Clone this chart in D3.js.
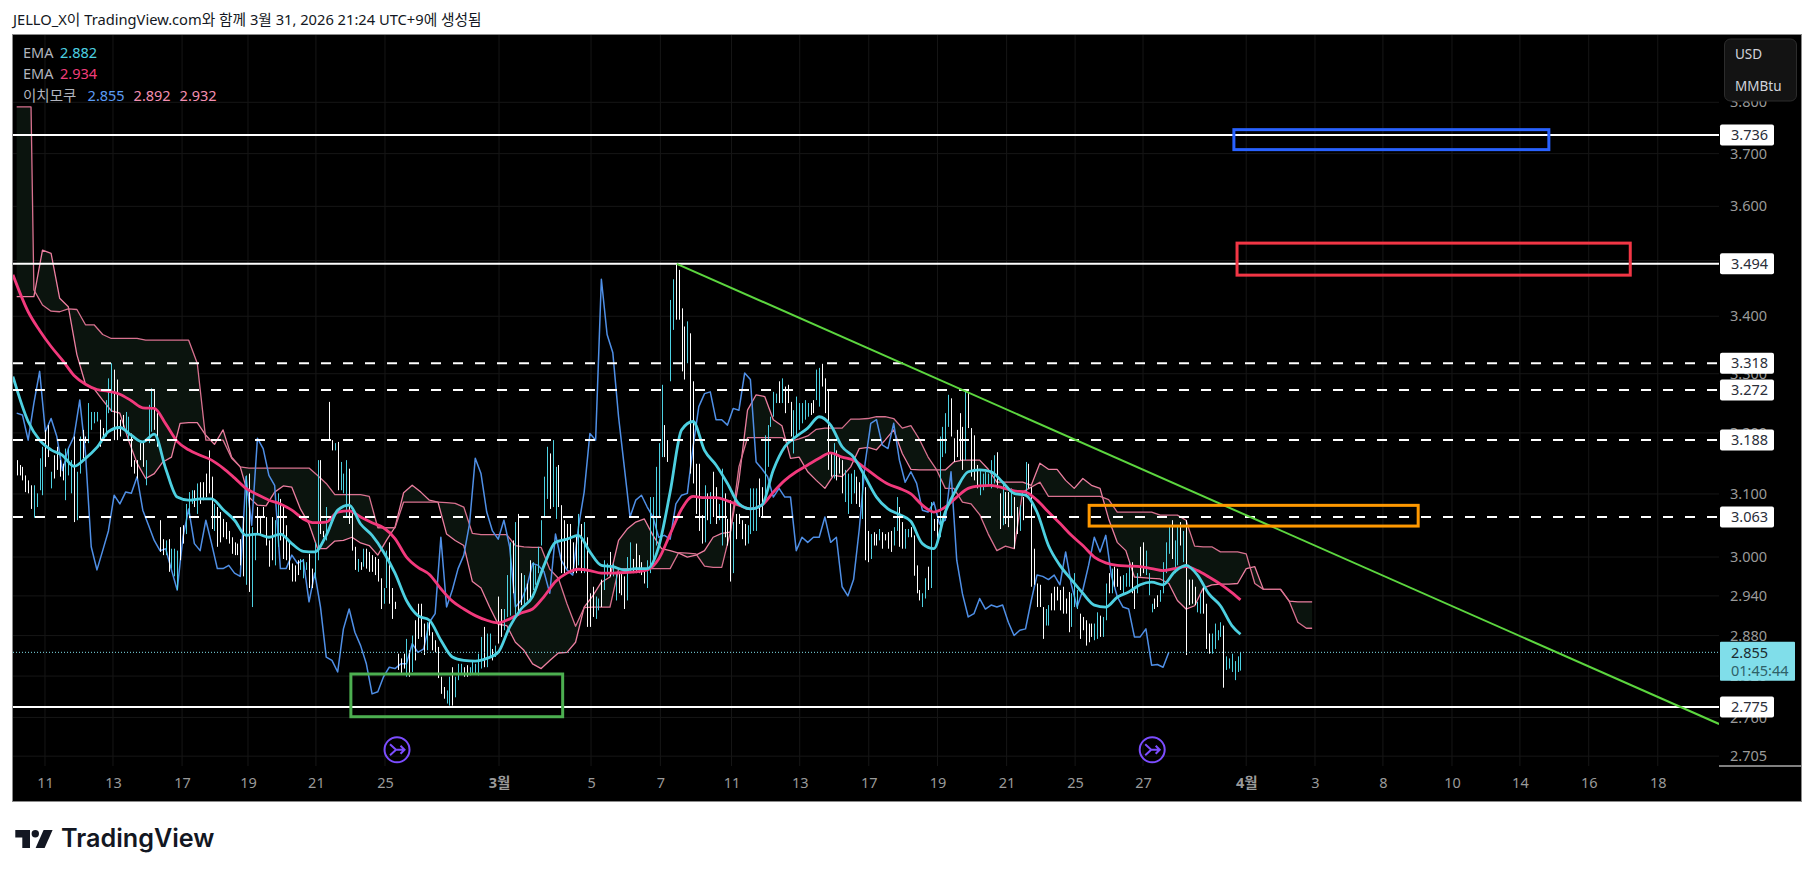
<!DOCTYPE html>
<html>
<head>
<meta charset="utf-8">
<title>JELLO_X chart</title>
<script src="https://d3js.org/d3.v7.min.js"></script>
<style>
  html, body { margin: 0; padding: 0; background: #fff; }
  svg { display: block; }
  text { font-family: "Noto Sans", "Noto Sans CJK KR", sans-serif; }
</style>
</head>
<body>
<svg id="chart" width="1814" height="877"></svg>
<script>
'use strict';

const headerText = 'JELLO_X이 TradingView.com와 함께 3월 31, 2026 21:24 UTC+9에 생성됨';

// 2h bars, left to right
const barHigh = [
  3.155,3.147,3.144,3.130,3.122,3.114,3.114,3.101,3.158,3.177,
  3.205,3.213,3.136,3.163,3.177,3.155,3.149,3.174,3.174,3.155,
  3.194,3.136,3.194,3.205,3.194,3.250,3.235,3.235,3.235,3.222,
  3.208,3.255,3.292,3.318,3.307,3.290,3.222,3.230,3.235,3.227,
  3.199,3.155,3.155,3.183,3.185,3.155,3.247,3.275,3.272,3.233,
  3.058,3.028,3.026,3.028,3.013,3.013,3.010,3.047,3.050,3.084,
  3.103,3.106,3.106,3.117,3.119,3.119,3.133,3.171,3.128,3.084,
  3.079,3.071,3.060,3.055,3.041,3.031,3.023,3.021,3.028,3.063,
  3.130,3.133,3.047,3.036,3.079,3.063,3.079,3.063,3.026,3.063,
  3.058,3.101,3.092,3.082,3.050,3.023,2.990,2.987,2.995,2.997,
  2.997,2.992,3.005,2.982,3.023,3.155,3.155,3.041,3.079,3.252,
  3.188,3.183,3.185,3.152,3.133,3.155,3.141,3.079,3.016,2.997,
  2.992,3.013,3.013,3.008,3.003,3.000,2.997,2.967,2.952,3.010,
  3.023,2.952,2.931,2.853,2.846,2.853,2.875,2.858,2.880,2.903,
  2.928,2.928,2.898,2.900,
  2.900,2.885,2.873,2.863,2.819,2.804,2.799,2.819,2.833,2.819,
  2.838,2.838,2.833,2.836,2.833,2.841,2.838,2.853,2.878,2.893,
  2.883,2.883,2.860,2.865,2.939,2.920,2.920,2.972,3.023,3.026,
  3.055,3.068,2.975,2.972,2.959,2.995,2.992,2.987,3.016,3.058,
  3.128,3.177,3.166,3.188,3.144,3.147,3.082,3.058,3.052,3.052,
  3.023,3.034,3.068,3.052,3.055,3.031,2.944,2.954,2.939,2.936,
  2.965,2.995,2.990,3.008,2.990,2.975,2.975,2.975,2.970,3.000,
  3.023,2.997,3.021,3.003,2.992,2.982,2.995,3.095,3.095,3.144,
  3.183,3.281,3.213,3.188,3.429,3.466,3.494,3.483,3.414,3.382,
  3.391,3.370,3.287,3.149,3.149,3.066,3.114,3.101,3.103,3.136,
  3.111,3.084,3.141,3.101,3.060,3.090,3.055,3.068,3.068,3.058,
  3.052,3.050,3.109,3.109,3.109,3.125,3.111,3.196,3.213,3.227,
  3.269,3.266,3.287,3.292,3.278,3.281,3.252,3.238,3.261,3.250,
  3.250,3.255,3.250,3.250,3.255,3.307,3.310,3.317,3.292,3.272,
  3.168,3.183,3.171,3.160,3.155,3.139,3.133,
  3.133,3.139,3.128,3.119,3.133,3.111,3.041,3.036,3.039,3.036,
  3.044,3.039,3.036,3.039,3.041,3.047,3.095,3.079,3.055,3.044,
  3.044,3.047,3.034,2.987,2.949,2.944,2.967,2.985,3.087,3.060,
  3.060,3.194,3.210,3.233,3.264,3.258,3.191,3.205,3.233,3.210,
  3.269,3.269,3.208,3.196,3.147,3.139,3.133,3.136,3.133,3.155,
  3.163,3.168,3.101,3.117,3.103,3.103,3.109,3.095,3.079,3.082,
  3.095,3.152,3.149,3.111,3.013,2.959,2.957,2.923,2.920,2.926,
  2.944,2.954,2.954,2.949,2.954,2.936,2.946,2.944,2.975,2.949,
  2.913,2.908,2.903,2.898,2.898,2.898,2.915,2.910,2.908,2.959,
  2.975,2.982,2.985,2.982,2.970,2.972,2.975,2.990,2.992,2.954,
  2.975,3.016,3.023,3.010,2.975,2.928,2.936,2.941,2.949,2.992,
  3.023,3.050,3.058,3.026,3.050,3.055,3.041,3.058,2.965,2.965,
  2.954,2.931,2.944,2.954,2.928,2.883,2.883,2.898,2.888,2.900,
  2.895,2.849,2.846,2.853,2.842,2.849,2.855
];
const barLow = [
  3.130,3.130,3.122,3.103,3.101,3.076,3.062,3.079,3.106,3.098,
  3.144,3.160,3.109,3.125,3.139,3.128,3.122,3.090,3.130,3.101,
  3.055,3.058,3.133,3.158,3.183,3.183,3.205,3.216,3.219,3.177,
  3.188,3.194,3.233,3.235,3.188,3.188,3.194,3.210,3.199,3.188,
  3.144,3.133,3.125,3.155,3.144,3.114,3.183,3.202,3.205,3.177,
  3.008,3.003,3.003,2.977,2.982,2.970,2.949,2.995,3.021,3.036,
  3.063,3.084,3.079,3.068,3.084,3.090,3.095,3.101,3.044,3.041,
  3.016,3.023,3.031,3.028,3.021,3.005,3.003,3.003,2.987,2.970,
  2.957,2.946,2.923,2.995,3.036,3.036,3.063,3.018,2.985,2.995,
  2.987,3.016,3.026,2.997,2.995,2.980,2.962,2.962,2.972,2.980,
  2.967,2.980,2.952,2.952,2.965,2.995,3.036,3.031,3.026,3.188,
  3.171,3.171,3.106,3.106,3.101,3.063,3.052,3.010,2.980,2.977,
  2.980,2.985,2.982,2.977,2.977,2.972,2.962,2.920,2.928,2.952,
  2.928,2.905,2.920,2.829,2.824,2.831,2.819,2.819,2.826,2.843,
  2.875,2.878,2.851,2.858,
  2.880,2.858,2.855,2.817,2.794,2.787,2.780,2.777,2.777,2.789,
  2.814,2.824,2.819,2.819,2.821,2.824,2.824,2.821,2.831,2.833,
  2.833,2.848,2.843,2.848,2.868,2.878,2.888,2.908,2.910,2.944,
  2.908,2.910,2.926,2.923,2.933,2.933,2.949,2.957,2.975,3.018,
  3.063,3.092,3.076,3.079,3.060,3.079,2.975,2.975,2.982,2.980,
  2.975,2.975,2.987,2.975,2.975,2.893,2.893,2.908,2.905,2.918,
  2.923,2.949,2.970,2.970,2.970,2.933,2.944,2.941,2.920,2.933,
  2.975,2.975,2.975,2.975,2.972,2.959,2.952,2.975,2.985,3.018,
  3.063,3.160,3.160,3.152,3.287,3.376,3.394,3.394,3.304,3.290,
  3.318,3.133,3.117,3.068,3.041,3.021,3.023,3.058,3.052,3.063,
  3.052,3.058,3.018,3.031,3.018,2.962,2.975,3.028,3.052,3.028,
  3.018,3.021,3.036,3.041,3.041,3.063,3.063,3.090,3.144,3.210,
  3.227,3.250,3.250,3.250,3.233,3.250,3.194,3.166,3.194,3.205,
  3.216,3.222,3.227,3.230,3.233,3.255,3.244,3.278,3.233,3.139,
  3.128,3.125,3.122,3.133,3.101,3.087,3.068,
  3.084,3.101,3.084,3.079,3.060,2.995,2.992,2.997,3.018,3.018,
  3.026,3.013,3.026,3.013,3.008,3.018,3.041,3.016,3.013,3.013,
  3.031,3.031,2.971,2.944,2.933,2.923,2.936,2.949,2.952,3.041,
  3.026,3.031,3.160,3.166,3.210,3.194,3.152,3.160,3.155,3.139,
  3.155,3.208,3.128,3.122,3.109,3.098,3.106,3.111,3.114,3.109,
  3.117,3.109,3.044,3.050,3.052,3.047,3.063,3.013,3.036,3.041,
  3.058,3.095,3.109,2.954,2.957,2.923,2.923,2.875,2.895,2.895,
  2.918,2.918,2.933,2.918,2.913,2.913,2.885,2.893,2.923,2.920,
  2.875,2.888,2.865,2.870,2.878,2.873,2.875,2.878,2.878,2.903,
  2.944,2.944,2.954,2.954,2.949,2.944,2.954,2.954,2.944,2.920,
  2.944,2.970,2.975,2.972,2.941,2.915,2.920,2.923,2.931,2.944,
  2.975,3.005,2.997,2.975,2.987,3.018,2.992,2.851,2.926,2.928,
  2.926,2.915,2.913,2.913,2.860,2.853,2.853,2.860,2.873,2.878,
  2.803,2.829,2.831,2.826,2.814,2.826,2.828
];
// w = white bar, c = cyan bar
const barKinds = (
  'wwwwwwcccc' + 'wwcwwwwccc' + 'wccwwccccw' + 'wcccwwwwcc' + 'wwwwwcccww' +
  'wwcwcccwwc' + 'ccwcwwwwwc' + 'wwwwwwwwww' + 'cwccwwwwww' + 'ccwwwwwwwc' +
  'ccwwccwwcw' + 'wcwcccwwwc' + 'wcwwwwwwcc' + 'wwwwwwcwcw' + 'wwwc' +
  'wwwwwwccwc' + 'ccwwcccccw' + 'ccwcwwcccw' + 'cwwcwwcccc' + 'ccwccwwwww' +
  'wwcwcwwwcc' + 'wccwccwwwc' + 'cwwwwwcccc' + 'ccwwccwwww' + 'cwwwwwcwcw' +
  'wccwwwcwww' + 'wccccwwccc' + 'ccwcwwwccc' + 'cccwwccwww' + 'wcwwwcc' +
  'ccwwcwwcww' + 'cwwwwccwwc' + 'cwwwwccwcw' + 'wccccwwwww' + 'cwwwwccccc' +
  'cwwcwwcwwc' + 'wcwwwwwwcc' + 'wwwwwwwccc' + 'wwwwwccwcc' + 'wcwwwcccww' +
  'cwwcccwwcc' + 'ccwccwcwww' + 'wccwwwcccc' + 'wcccccc'
).split('');

// lagging span, one value per two bars
const lagging = [
  3.233,3.230,3.188,3.250,3.304,3.202,3.224,3.194,3.138,3.174,
  3.194,3.255,3.166,3.016,2.980,3.010,3.041,3.098,3.084,3.103,
  3.101,3.128,3.074,3.050,3.026,3.010,3.013,2.980,2.949,3.031,
  3.076,3.021,3.010,3.058,3.021,2.982,2.982,2.987,2.975,2.970,
  3.128,3.050,3.191,3.174,3.130,3.114,2.982,2.982,3.003,2.990,
  2.995,2.931,2.975,2.923,2.848,2.843,2.826,2.890,2.920,2.885,
  2.865,2.838,2.794,2.797,2.819,2.833,2.831,2.838,2.838,2.868,
  2.855,2.860,2.900,2.913,3.031,2.923,2.949,2.982,3.003,3.052,
  3.158,3.133,3.071,3.041,3.028,3.058,3.016,2.923,2.933,2.954,
  2.990,2.987,2.977,2.944,3.036,2.995,2.980,2.972,3.047,3.103,
  3.199,3.188,3.466,3.368,3.336,3.227,3.144,3.063,3.090,3.098,
  3.079,3.063,3.031,3.034,3.028,3.084,3.098,3.101,3.177,3.244,
  3.266,3.269,3.222,3.222,3.213,3.241,3.238,3.301,3.290,3.152,
  3.141,3.128,3.095,3.109,3.095,3.095,3.010,3.031,3.023,3.031,
  3.031,3.063,3.023,3.031,2.954,2.940,2.965,3.044,3.149,3.216,
  3.222,3.180,3.174,3.216,3.155,3.119,3.136,3.117,3.074,3.071,
  3.087,3.052,3.058,3.136,2.995,2.943,2.908,2.913,2.936,2.920,
  2.926,2.923,2.926,2.900,2.880,2.888,2.890,2.933,2.972,2.970,
  2.965,2.972,2.957,3.008,2.957,2.923,2.949,2.987,3.031,3.008,
  3.034,2.970,2.939,2.923,2.920,2.878,2.878,2.890,2.836,2.837,
  2.833,2.855
];

// moving averages, one value per four bars (first one sits at the plot edge)
const emaFast = [
  3.295,3.219,3.188,3.172,3.163,3.145,3.158,3.176,3.202,3.209,
  3.196,3.185,3.198,3.141,3.095,3.090,3.092,3.092,3.075,3.058,
  3.034,3.036,3.031,3.036,3.021,3.009,3.008,3.034,3.074,3.082,
  3.052,3.034,3.008,2.975,2.933,2.910,2.903,2.873,2.848,2.843,
  2.842,2.846,2.855,2.893,2.920,2.939,2.987,3.023,3.028,3.034,
  3.008,2.987,2.985,2.980,2.982,2.982,3.016,3.103,3.205,3.219,
  3.171,3.147,3.117,3.084,3.076,3.082,3.139,3.177,3.194,3.208,
  3.227,3.213,3.177,3.160,3.128,3.095,3.076,3.067,3.056,3.021,
  3.013,3.071,3.109,3.136,3.139,3.136,3.119,3.101,3.098,3.071,
  3.018,2.987,2.965,2.944,2.926,2.923,2.938,2.946,2.957,2.961,
  2.957,2.977,2.987,2.972,2.943,2.925,2.895,2.882
];
const emaSlow = [
  3.474,3.408,3.375,3.347,3.323,3.297,3.282,3.273,3.270,3.265,
  3.254,3.242,3.241,3.215,3.186,3.172,3.163,3.155,3.142,3.126,
  3.109,3.099,3.090,3.084,3.074,3.060,3.054,3.055,3.071,3.073,
  3.063,3.054,3.046,3.029,3.000,2.984,2.973,2.951,2.932,2.920,
  2.910,2.903,2.899,2.905,2.914,2.920,2.939,2.962,2.975,2.981,
  2.979,2.975,2.975,2.976,2.977,2.980,2.997,3.036,3.076,3.096,
  3.094,3.094,3.089,3.082,3.076,3.082,3.103,3.122,3.136,3.147,
  3.158,3.167,3.160,3.155,3.142,3.128,3.116,3.109,3.100,3.082,
  3.071,3.079,3.095,3.109,3.113,3.114,3.110,3.105,3.103,3.090,
  3.071,3.053,3.034,3.018,3.000,2.991,2.987,2.986,2.985,2.982,
  2.979,2.982,2.985,2.979,2.969,2.958,2.945,2.934
];

// cloud, bar numbers then the two span values
const cloudBars = d3.merge([[0, 3, 5], d3.range(6, 451, 3), [452]]);
const spanA = [
  3.435,3.435,3.435,
  3.435,3.519,3.513,3.432,3.417,3.333,3.282,3.274,3.255,3.237,3.233,3.188,
  3.150,3.125,3.133,3.152,3.160,3.216,3.217,3.217,3.196,3.181,3.205,3.160,
  3.144,3.095,3.082,3.081,3.103,3.113,3.111,3.076,3.052,3.013,3.013,3.025,
  3.026,3.031,3.022,3.018,3.003,3.026,3.047,3.102,3.114,3.103,3.090,3.087,
  3.036,3.026,3.018,2.962,2.952,2.923,2.897,2.895,2.870,2.858,2.838,2.831,
  2.843,2.854,2.855,2.870,2.923,2.940,2.961,2.969,3.026,3.044,3.055,3.060,
  3.034,3.013,3.010,3.006,3.000,3.003,3.010,3.031,3.037,3.039,3.122,3.238,
  3.264,3.261,3.222,3.212,3.158,3.160,3.136,3.122,3.109,3.130,3.128,3.144,
  3.174,3.176,3.172,3.188,3.205,3.166,3.140,3.139,3.139,3.139,3.139,3.152,
  3.155,3.155,3.155,3.140,3.119,3.119,3.119,3.119,3.114,3.150,3.140,3.140,
  3.122,3.109,3.125,3.114,3.109,3.060,3.023,3.010,2.969,2.968,2.967,2.966,
  2.959,2.933,2.920,2.925,2.952,2.957,2.958,2.958,2.959,2.982,2.985,2.950,
  2.950,2.950,2.932,2.931,2.931,
  2.931
];
const spanB = [
  3.791,3.791,3.791,
  3.447,3.420,3.409,3.408,3.413,3.412,3.385,3.385,3.368,3.361,3.361,3.361,
  3.361,3.358,3.358,3.358,3.358,3.358,3.358,3.318,3.188,3.188,3.188,3.158,
  3.144,3.142,3.142,3.142,3.142,3.142,3.142,3.142,3.142,3.130,3.117,3.099,
  3.099,3.099,3.099,3.096,3.046,3.046,3.046,3.087,3.087,3.087,3.087,3.087,
  3.086,3.085,3.079,3.037,3.035,3.035,3.035,3.035,3.018,3.016,3.015,3.015,
  2.981,2.967,2.928,2.894,2.922,2.923,2.923,2.923,2.981,2.982,2.982,2.982,
  2.982,2.982,2.982,3.007,3.006,3.005,2.986,2.984,2.984,3.039,3.144,3.192,
  3.192,3.192,3.192,3.192,3.186,3.190,3.195,3.206,3.208,3.208,3.208,3.223,
  3.223,3.224,3.227,3.227,3.224,3.208,3.212,3.189,3.160,3.139,3.109,3.109,
  3.087,3.084,3.067,3.036,3.010,3.017,3.013,3.103,3.111,3.119,3.096,3.096,
  3.096,3.096,3.096,3.096,3.096,3.091,3.071,3.071,3.071,3.071,3.071,3.066,
  3.066,3.066,3.058,3.017,3.016,3.016,3.008,3.008,3.008,3.005,2.959,2.950,
  2.950,2.950,2.932,2.900,2.891,
  2.891
];

const priceTicks = [3.8, 3.7, 3.6, 3.5, 3.4, 3.3, 3.2, 3.1, 3.0, 2.94, 2.88, 2.82, 2.76, 2.705];
const timeTickBars = [9.87, 33.6, 57.7, 80.7, 104.4, 128.5, 168.3, 200.4, 224.6, 249.4, 273.2, 297.3,
  321.3, 345.4, 369.3, 393, 429, 453, 476.7, 500.8, 524.5, 548.5, 572.6];
const timeTickLabels = ['11', '13', '17', '19', '21', '25', '3월', '5', '7', '11', '13', '17',
  '19', '21', '25', '27', '4월', '3', '8', '10', '14', '16', '18'];

const solidLevels = [3.736, 3.494, 2.775];
const dashedLevels = [3.318, 3.272, 3.188, 3.063];
const lastPrice = 2.855;
const countdown = '01:45:44';

// drawings: first bar, last bar, top price, bottom price
const boxBars = [[116.6, 190.5], [374.2, 489], [425.8, 563], [424.7, 534.6]];
const boxPrices = [[2.823, 2.761], [3.0817, 3.0487], [3.5318, 3.4735], [3.7464, 3.7077]];
const boxColors = ['#4caf50', '#ff9800', '#f23645', '#2962ff'];
const trendBars = [230.3, 594];
const trendPrices = [3.494, 2.7506];
const markerBars = [132.7, 396.2];
const markerPrice = 2.714;

const legendRows = [
  { name: 'EMA', values: [['2.882', '#4dd0e1']] },
  { name: 'EMA', values: [['2.934', '#f23d7a']] },
  { name: '이치모쿠', values: [['2.855', '#5b9cf6'], ['2.892', '#f48fb1'], ['2.932', '#f48fb1']] }
];

const margin = { left: 13, top: 35, right: 1719, bottom: 766, outerRight: 1801, outerBottom: 801 };

const svg = d3.select('#chart');

const x = d3.scaleLinear().domain([0, 594]).range([16.7, 1719.1]);
const y = d3.scaleLog().domain([2.775, 3.736]).range([707, 135]);

svg.append('rect').attr('width', 1814).attr('height', 877).attr('fill', '#fff');

svg.append('text')
  .attr('x', 13).attr('y', 25)
  .attr('font-size', 14.7).attr('fill', '#131722')
  .text(headerText);

svg.append('rect')
  .attr('x', margin.left - 0.5).attr('y', margin.top - 0.5)
  .attr('width', margin.outerRight - margin.left + 1)
  .attr('height', margin.outerBottom - margin.top + 1)
  .attr('fill', '#000').attr('stroke', '#8a8a8a');

svg.append('defs').append('clipPath').attr('id', 'plot')
  .append('rect')
  .attr('x', margin.left).attr('y', margin.top)
  .attr('width', margin.right - margin.left)
  .attr('height', margin.bottom - margin.top);

// grid
svg.append('g').selectAll('line').data(priceTicks).join('line')
  .attr('x1', margin.left).attr('x2', margin.right)
  .attr('y1', d => y(d)).attr('y2', d => y(d))
  .attr('stroke', '#161616');
svg.append('g').selectAll('line').data(timeTickBars).join('line')
  .attr('x1', d => x(d)).attr('x2', d => x(d))
  .attr('y1', margin.top).attr('y2', margin.bottom)
  .attr('stroke', '#161616');

const plot = svg.append('g').attr('clip-path', 'url(#plot)');

// cloud
const cloudArea = d3.area()
  .x((d, i) => x(cloudBars[i]))
  .y0((d, i) => y(spanA[i]))
  .y1((d, i) => y(spanB[i]));
plot.append('path').attr('d', cloudArea(cloudBars)).attr('fill', '#0b140e');

function drawLine(values, bars, color, width) {
  const line = d3.line().x((d, i) => x(bars[i])).y(d => y(d));
  plot.append('path')
    .attr('d', line(values))
    .attr('fill', 'none')
    .attr('stroke', color)
    .attr('stroke-width', width)
    .attr('stroke-linejoin', 'round');
}

drawLine(spanA, cloudBars, '#ec7fa0', 1.3);
drawLine(spanB, cloudBars, '#d8718f', 1.3);
drawLine(lagging, lagging.map((d, i) => i * 2), '#4f8fe6', 1.5);

// bars
plot.append('g').selectAll('line').data(barHigh).join('line')
  .attr('x1', (d, i) => Math.round(x(i)) + 0.5)
  .attr('x2', (d, i) => Math.round(x(i)) + 0.5)
  .attr('y1', d => y(d))
  .attr('y2', (d, i) => y(barLow[i]))
  .attr('stroke', (d, i) => barKinds[i] === 'c' ? '#4dd0e1' : '#ffffff')
  .attr('stroke-width', 1);

const lastBar = barHigh.length - 1;
const emaBars = emaFast.map((d, i) => i === 0 ? -1.3 : Math.min(i * 4, lastBar));
const smooth = d3.line().x((d, i) => x(emaBars[i])).y(d => y(d)).curve(d3.curveMonotoneX);
plot.append('path').attr('d', smooth(emaSlow))
  .attr('fill', 'none').attr('stroke', '#f2397c').attr('stroke-width', 2.8);
plot.append('path').attr('d', smooth(emaFast))
  .attr('fill', 'none').attr('stroke', '#4dd0e1').attr('stroke-width', 2.8);

// drawings
plot.append('line')
  .attr('x1', margin.left).attr('x2', margin.right)
  .attr('y1', y(lastPrice)).attr('y2', y(lastPrice))
  .attr('stroke', '#80deea').attr('stroke-dasharray', '1 2');

plot.selectAll('.solid').data(solidLevels).join('line')
  .attr('class', 'solid')
  .attr('x1', margin.left).attr('x2', margin.right)
  .attr('y1', d => y(d)).attr('y2', d => y(d))
  .attr('stroke', '#fff').attr('stroke-width', 2);

plot.selectAll('.dashed').data(dashedLevels).join('line')
  .attr('class', 'dashed')
  .attr('x1', margin.left).attr('x2', margin.right)
  .attr('y1', d => y(d)).attr('y2', d => y(d))
  .attr('stroke', '#fff').attr('stroke-width', 2)
  .attr('stroke-dasharray', '10 12');

plot.append('line')
  .attr('x1', x(trendBars[0])).attr('x2', x(trendBars[1]))
  .attr('y1', y(trendPrices[0])).attr('y2', y(trendPrices[1]))
  .attr('stroke', '#5cd63f').attr('stroke-width', 2);

plot.selectAll('.box').data(boxBars).join('rect')
  .attr('class', 'box')
  .attr('x', d => x(d[0]))
  .attr('width', d => x(d[1]) - x(d[0]))
  .attr('y', (d, i) => y(boxPrices[i][0]))
  .attr('height', (d, i) => y(boxPrices[i][1]) - y(boxPrices[i][0]))
  .attr('fill', 'none')
  .attr('stroke', (d, i) => boxColors[i])
  .attr('stroke-width', 3);

const markers = plot.selectAll('.marker').data(markerBars).join('g')
  .attr('class', 'marker')
  .attr('transform', d => 'translate(' + x(d) + ',' + y(markerPrice) + ')');
markers.append('circle').attr('r', 12.5)
  .attr('fill', 'none').attr('stroke', '#7c4dff').attr('stroke-width', 2);
markers.append('path')
  .attr('d', 'M-7,-5.5 L-1,0 L-7,5.5 M-1,0 L7.5,0 M3.5,-4 L7.5,0 L3.5,4')
  .attr('fill', 'none').attr('stroke', '#7c4dff').attr('stroke-width', 2);

// axes
const priceAxis = d3.axisRight(y)
  .tickValues(priceTicks)
  .tickSize(0)
  .tickPadding(11)
  .tickFormat(d3.format('.3f'));
const priceG = svg.append('g')
  .attr('transform', 'translate(' + margin.right + ',0)')
  .call(priceAxis);
priceG.select('.domain').remove();
priceG.selectAll('text').attr('fill', '#9a9a9a').attr('font-size', 14.5)
  .style('font-family', '"Noto Sans", sans-serif');

const timeAxis = d3.axisBottom(x)
  .tickValues(timeTickBars)
  .tickSize(0)
  .tickPadding(12)
  .tickFormat((d, i) => timeTickLabels[i]);
const timeG = svg.append('g')
  .attr('transform', 'translate(0,' + margin.bottom + ')')
  .call(timeAxis);
timeG.select('.domain').remove();
timeG.selectAll('text').attr('fill', '#9a9a9a').attr('font-size', 14.5)
  .style('font-family', '"Noto Sans", "Noto Sans CJK KR", sans-serif')
  .attr('font-weight', (d, i) => timeTickLabels[i].includes('월') ? 700 : 400);

svg.append('line')
  .attr('x1', margin.right).attr('x2', margin.outerRight)
  .attr('y1', margin.bottom).attr('y2', margin.bottom)
  .attr('stroke', '#fff');

// price tags
const tags = svg.selectAll('.tag').data(solidLevels.concat(dashedLevels)).join('g')
  .attr('class', 'tag')
  .attr('transform', d => 'translate(1720,' + y(d) + ')');
tags.append('rect')
  .attr('y', -10.5).attr('width', 54).attr('height', 21).attr('rx', 2)
  .attr('fill', '#fff');
tags.append('text')
  .attr('x', 11).attr('dy', '0.36em')
  .attr('font-size', 14.5).attr('fill', '#2a2e39')
  .text(d => d3.format('.3f')(d));

const lastTag = svg.append('g').attr('transform', 'translate(1720,' + y(lastPrice) + ')');
lastTag.append('rect')
  .attr('y', -10.5).attr('width', 75).attr('height', 39).attr('rx', 1)
  .attr('fill', '#80deea');
lastTag.append('text')
  .attr('x', 11).attr('y', 5.5)
  .attr('font-size', 14.5).attr('fill', '#1a2a2e')
  .text(d3.format('.3f')(lastPrice));
lastTag.append('text')
  .attr('x', 11).attr('y', 23.5)
  .attr('font-size', 14.5).attr('fill', '#2f6168')
  .text(countdown);

// unit button
svg.append('rect')
  .attr('x', 1724.5).attr('y', 39).attr('width', 72).attr('height', 62).attr('rx', 6)
  .attr('fill', '#131313').attr('stroke', '#2c2c2c');
svg.selectAll('.unit').data(['USD', 'MMBtu']).join('text')
  .attr('class', 'unit')
  .attr('x', 1735)
  .attr('y', (d, i) => 59 + i * 32)
  .attr('font-size', 13.5).attr('fill', '#d1d4dc')
  .text(d => d);

// legend
legendRows.forEach((row, r) => {
  const rowY = 58 + r * 21.4;
  svg.append('text')
    .attr('x', 23).attr('y', rowY)
    .attr('font-size', 14.5).attr('fill', '#b2b5be')
    .text(row.name);
  row.values.forEach((v, i) => {
    svg.append('text')
      .attr('x', (row.values.length > 1 ? 87.6 : 60) + i * 46)
      .attr('y', rowY)
      .attr('font-size', 14.5).attr('fill', v[1])
      .text(v[0]);
  });
});

// logo
const logo = svg.append('g').attr('fill', '#131722');
logo.append('path').attr('d', 'M15.3,830 H30 V848 H22.3 V837.5 H15.3 Z');
logo.append('circle').attr('cx', 35.3).attr('cy', 833.7).attr('r', 3.7);
logo.append('path').attr('d', 'M43.6,830 H52.6 L44.6,848 H35.6 Z');
logo.append('text')
  .attr('x', 61).attr('y', 847)
  .attr('font-size', 25.2).attr('font-weight', 600)
  .style('font-family', 'Inter, sans-serif')
  .text('TradingView');
</script>
</body>
</html>
